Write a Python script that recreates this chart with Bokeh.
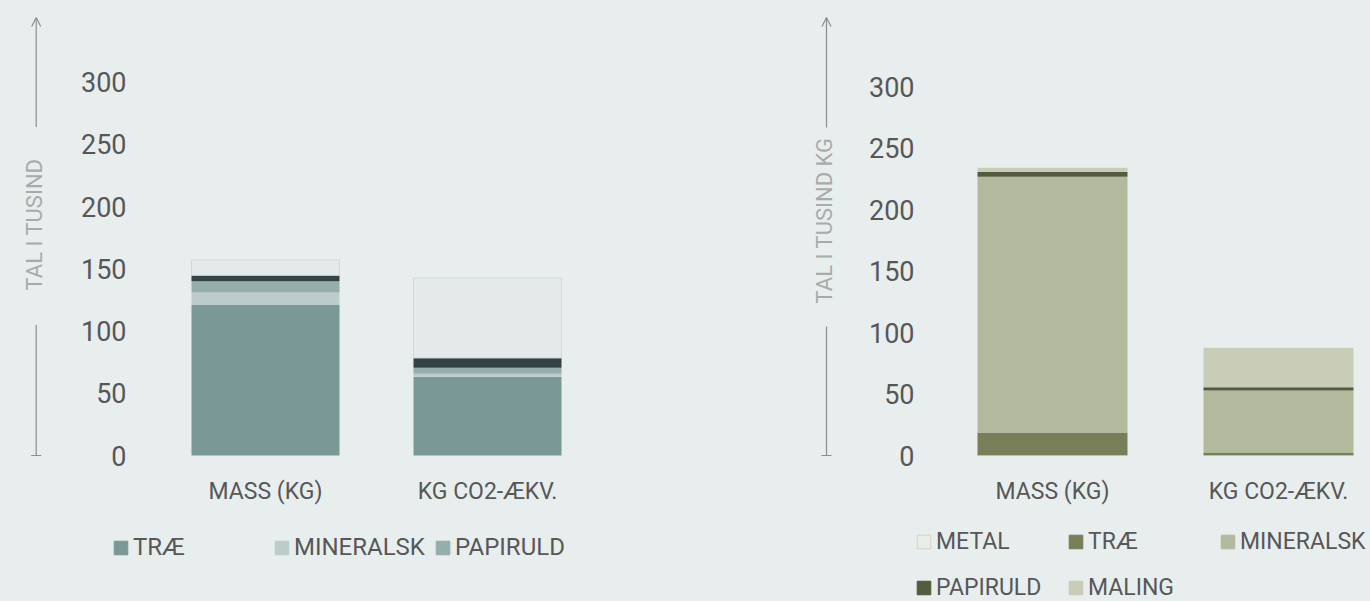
import math
from bokeh.plotting import figure
from bokeh.layouts import row, column
from bokeh.models import (Range1d, FixedTicker, Legend, LegendItem, Arrow,
                          OpenHead, Label, ColumnDataSource)
from bokeh.embed import file_html
from bokeh.resources import INLINE

# ---------------- data ----------------
categories = ["MASS (KG)", "KG CO2-ÆKV."]
y_ticks = [0, 50, 100, 150, 200, 250, 300]

# left chart (tal i tusind)
left_series = ["TRÆ", "MINERALSK", "PAPIRULD", "MALING", "METAL"]
left_trae = [121.0, 63.2]
left_mineralsk = [10.0, 2.4]
left_papiruld = [9.0, 5.0]
left_maling = [4.8, 7.8]
left_metal = [12.4, 64.2]
left_legend = ["TRÆ", "MINERALSK", "PAPIRULD"]

# right chart (tal i tusind kg)
right_series = ["METAL", "TRÆ", "MINERALSK", "PAPIRULD", "MALING"]
right_metal = [0.3, 0.3]
right_trae = [18.5, 1.8]
right_mineralsk = [207.8, 50.7]
right_papiruld = [3.8, 2.7]
right_maling = [3.5, 32.1]
right_legend = ["METAL", "TRÆ", "MINERALSK", "PAPIRULD", "MALING"]

# ---------------- styles ----------------
BG = "#e8eeee"
FONT = "Roboto"
TXT = "#575757"
AXIS_TITLE = "#a8abab"
ARROW = "#8c8e8e"
H_TOP = 520
H_LEG = 81
PAD_PX = 4   # frame extends a little below zero

left_colors = {"TRÆ": "#799896", "MINERALSK": "#bccccb", "PAPIRULD": "#95adab",
               "MALING": "#334243", "METAL": "#e4eaea"}
right_colors = {"METAL": "#ecece6", "TRÆ": "#787e58", "MINERALSK": "#b3b99d",
                "PAPIRULD": "#535a3e", "MALING": "#c9ccb6"}


def base_fig(width, height, x_range, y_range, **kw):
    p = figure(width=width, height=height, x_range=x_range, y_range=y_range,
               toolbar_location=None, output_backend="svg", **kw)
    p.background_fill_color = BG
    p.border_fill_color = BG
    p.outline_line_color = None
    p.xgrid.visible = False
    p.ygrid.visible = False
    return p


def y_range_for(y_zero_px, ppu):
    return Range1d(-PAD_PX / ppu, y_zero_px / ppu)


def arrow_fig(width, y_zero_px, ppu, ax, tx, title, top_px, upper_px, lower_px, ty_px):
    p = base_fig(width, H_TOP, Range1d(0, width), y_range_for(y_zero_px, ppu),
                 x_axis_location=None, y_axis_location=None,
                 min_border_left=0, min_border_right=0, min_border_top=0,
                 min_border_bottom=H_TOP - y_zero_px - PAD_PX)
    to_data = lambda py: (y_zero_px - py) / ppu
    p.add_layout(Arrow(end=OpenHead(size=9, line_color=ARROW, line_width=1.2),
                       x_start=ax, y_start=to_data(upper_px),
                       x_end=ax, y_end=to_data(top_px),
                       line_color=ARROW, line_width=1.2))
    p.segment(x0=[ax], y0=[0], x1=[ax], y1=[to_data(lower_px)],
              line_color=ARROW, line_width=1.2)
    p.segment(x0=[ax - 5], y0=[0], x1=[ax + 5], y1=[0],
              line_color=ARROW, line_width=1.2)
    p.add_layout(Label(x=tx, y=to_data(ty_px), text=title, angle=math.pi / 2,
                       text_align="center", text_baseline="middle",
                       text_font=FONT, text_font_size="22px",
                       text_color=AXIS_TITLE))
    return p


def build_main(fig_left_px, width, border_left, c0_px, step_px, y_zero_px, ppu,
               bar_px, series, data, colors, tick_font, cat_font):
    frame_left_px = fig_left_px + border_left
    frame_right_px = fig_left_px + width
    x_range = Range1d((frame_left_px - c0_px) / step_px,
                      (frame_right_px - c0_px) / step_px)
    p = base_fig(width, H_TOP, x_range, y_range_for(y_zero_px, ppu),
                 min_border_left=border_left, min_border_right=0,
                 min_border_top=0, min_border_bottom=H_TOP - y_zero_px - PAD_PX)
    src = dict(x=list(range(len(categories))))
    src.update(data)
    source = ColumnDataSource(src)
    renderers = p.vbar_stack(series, x="x", width=bar_px / step_px, source=source,
                             color=[colors[s] for s in series], line_color=None)
    for s, r in zip(series, renderers):
        if s == "METAL":
            r.glyph.line_color = "#d3d9d9"
            r.glyph.line_width = 1
    p.yaxis.ticker = FixedTicker(ticks=y_ticks)
    p.yaxis.axis_line_color = None
    p.yaxis.major_tick_line_color = None
    p.yaxis.minor_tick_line_color = None
    p.yaxis.major_tick_out = 0
    p.yaxis.major_label_standoff = 14
    p.yaxis.major_label_text_font = FONT
    p.yaxis.major_label_text_font_size = tick_font
    p.yaxis.major_label_text_color = TXT

    p.xaxis.ticker = FixedTicker(ticks=list(range(len(categories))))
    p.xaxis.major_label_overrides = {i: c for i, c in enumerate(categories)}
    p.xaxis.axis_line_color = None
    p.xaxis.major_tick_line_color = None
    p.xaxis.minor_tick_line_color = None
    p.xaxis.major_tick_out = 0
    p.xaxis.major_label_standoff = 18
    p.xaxis.major_label_text_font = FONT
    p.xaxis.major_label_text_font_size = cat_font
    p.xaxis.major_label_text_color = TXT
    return p


def legend_fig(width, names, colors, ncols, label_width, spacing, loc, font):
    p = base_fig(width, H_LEG, Range1d(0, width), Range1d(0, H_LEG),
                 x_axis_location=None, y_axis_location=None, min_border=0)
    items = []
    for n in names:
        line = "#d0d3cc" if n == "METAL" else colors[n]
        # swatch renderer for the legend only (placed far outside the view)
        r = p.vbar(x=[-50000], top=[-50000], bottom=[-50001], width=1,
                   fill_color=colors[n], line_color=line, line_width=1)
        items.append(LegendItem(label=n, renderers=[r]))
    legend = Legend(items=items, orientation="horizontal", ncols=ncols,
                    location=loc, label_text_font=FONT, label_text_font_size=font,
                    label_text_color=TXT, glyph_width=17, glyph_height=17,
                    label_standoff=4, label_width=label_width, spacing=spacing,
                    padding=0, margin=0, background_fill_alpha=0,
                    border_line_color=None)
    p.add_layout(legend)
    return p


left_arrow = arrow_fig(60, 457, 1.25, 35.7, 34, "TAL I TUSIND", 17, 127, 326, 225)
left_main = build_main(60, 700, 80, 265, 222, 457, 1.25, 148, left_series,
                       {"TRÆ": left_trae, "MINERALSK": left_mineralsk,
                        "PAPIRULD": left_papiruld, "MALING": left_maling,
                        "METAL": left_metal},
                       left_colors, "27px", "23px")
right_arrow = arrow_fig(80, 455, 1.23, 66, 64, "TAL I TUSIND KG", 17, 127, 326, 220)
right_main = build_main(840, 530, 88, 1052, 226, 455, 1.23, 150, right_series,
                        {"METAL": right_metal, "TRÆ": right_trae,
                         "MINERALSK": right_mineralsk, "PAPIRULD": right_papiruld,
                         "MALING": right_maling},
                        right_colors, "27px", "23px")

left_leg = legend_fig(760, left_legend, left_colors, 3, 140, 0, (112, 40), "24px")
right_leg = legend_fig(610, right_legend, right_colors, 3, 112, 19, (155, 0), "23px")

layout = column(row(left_arrow, left_main, right_arrow, right_main),
                row(left_leg, right_leg))
layout.styles = {"background-color": BG}

html = file_html(layout, INLINE)
html = html.replace("<body>", '<body style="background-color:%s">' % BG, 1)
open("out.html", "w").write(html)
